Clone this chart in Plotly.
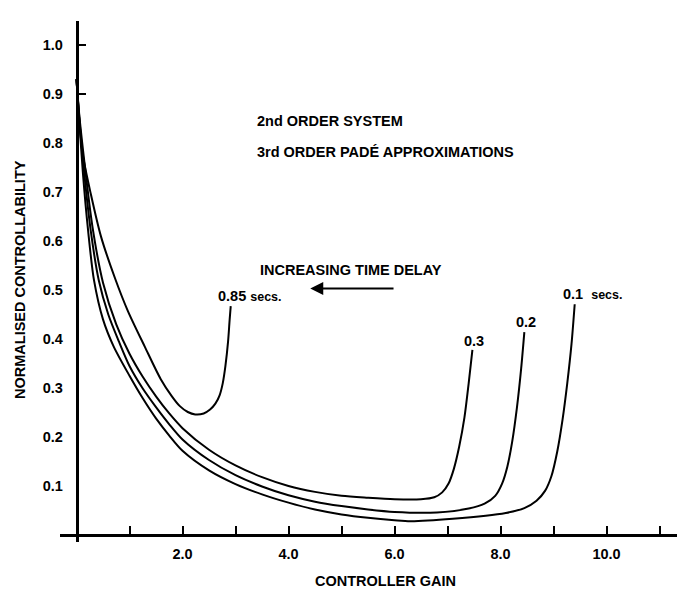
import plotly.graph_objects as go

# ---- data ----
gain_085 = [0, 0.05, 0.12, 0.27, 0.46, 0.73, 0.97, 1.29, 1.59, 1.80, 1.95, 2.10, 2.24, 2.40, 2.52, 2.62, 2.70, 2.76, 2.81, 2.86, 2.89, 2.91]
ctrl_085 = [0.93, 0.85, 0.775, 0.696, 0.61, 0.523, 0.457, 0.384, 0.318, 0.283, 0.263, 0.251, 0.246, 0.248, 0.256, 0.268, 0.285, 0.31, 0.345, 0.395, 0.44, 0.467]

gain_03 = [0, 0.05, 0.15, 0.3, 0.5, 0.75, 1.0, 1.25, 1.5, 1.75, 2.0, 2.5, 3.0, 3.5, 4.0, 4.5, 5.0, 5.5, 6.0, 6.5, 6.75, 6.9, 7.02, 7.12, 7.22, 7.32, 7.40, 7.47]
ctrl_03 = [0.93, 0.86, 0.76, 0.63, 0.515, 0.43, 0.37, 0.323, 0.283, 0.248, 0.218, 0.174, 0.142, 0.118, 0.100, 0.088, 0.080, 0.076, 0.073, 0.073, 0.077, 0.087, 0.105, 0.135, 0.18, 0.24, 0.31, 0.378]

gain_02 = [0, 0.05, 0.14, 0.27, 0.42, 0.6, 0.8, 1.0, 1.25, 1.5, 1.75, 2.0, 2.5, 3.0, 3.5, 4.0, 4.5, 5.0, 5.5, 6.0, 6.8, 7.4, 7.7, 7.9, 8.03, 8.13, 8.22, 8.31, 8.39, 8.45]
ctrl_02 = [0.93, 0.855, 0.745, 0.62, 0.52, 0.45, 0.395, 0.345, 0.299, 0.261, 0.226, 0.195, 0.153, 0.122, 0.099, 0.081, 0.068, 0.059, 0.052, 0.047, 0.046, 0.054, 0.064, 0.08, 0.105, 0.14, 0.19, 0.26, 0.34, 0.414]

gain_01 = [0, 0.05, 0.12, 0.22, 0.33, 0.5, 0.7, 1.0, 1.25, 1.5, 1.75, 2.0, 2.5, 3.0, 3.5, 4.0, 4.5, 5.0, 5.5, 6.0, 6.3, 7.1, 8.1, 8.45, 8.68, 8.84, 8.96, 9.07, 9.17, 9.26, 9.34, 9.40]
ctrl_01 = [0.93, 0.85, 0.74, 0.62, 0.52, 0.44, 0.385, 0.325, 0.279, 0.238, 0.203, 0.172, 0.132, 0.104, 0.083, 0.066, 0.052, 0.042, 0.035, 0.030, 0.028, 0.033, 0.045, 0.055, 0.07, 0.09, 0.12, 0.17, 0.235, 0.31, 0.39, 0.471]

series = [
    ("0.85 secs", gain_085, ctrl_085),
    ("0.3 secs", gain_03, ctrl_03),
    ("0.2 secs", gain_02, ctrl_02),
    ("0.1 secs", gain_01, ctrl_01),
]

x_tick_vals = [1, 2, 3, 4, 5, 6, 7, 8, 9, 10, 11]
x_tick_text = ["", "2.0", "", "4.0", "", "6.0", "", "8.0", "", "10.0", ""]
y_tick_vals = [0.1, 0.2, 0.3, 0.4, 0.5, 0.6, 0.7, 0.8, 0.9, 1.0]
y_tick_text = ["0.1", "0.2", "0.3", "0.4", "0.5", "0.6", "0.7", "0.8", "0.9", "1.0"]
y_marked_ticks = [0.9, 1.0]

# ---- figure ----
FONT = "Liberation Sans, Arial, sans-serif"
FS = 14.5

fig = go.Figure()
for name, xs, ys in series:
    fig.add_trace(go.Scatter(
        x=xs, y=ys, mode="lines", name=name,
        line=dict(color="black", width=2, shape="spline", smoothing=0.8),
        showlegend=False, hoverinfo="skip",
    ))

W, H = 685, 592
ml, mr, mt, mb = 52, 0, 13, 58
pw, ph = W - ml - mr, H - mt - mb
x0_px, y0_px = 68.5, 527          # pixel positions of the origin
x_unit, y_unit = 53.0, 490.0      # pixels per data unit
x_range = [-(x0_px - ml) / x_unit, (W - mr - x0_px) / x_unit]
y_range = [-(H - mb - y0_px) / y_unit, (y0_px - mt) / y_unit]
x_pos = (x0_px - ml) / pw
y_pos = (H - mb - y0_px) / ph

fig.update_layout(
    width=W, height=H,
    margin=dict(l=ml, r=mr, t=mt, b=mb),
    paper_bgcolor="white", plot_bgcolor="white",
    font=dict(family=FONT, size=FS, color="black"),
    xaxis=dict(
        range=x_range, anchor="free", position=y_pos,
        showgrid=False, zeroline=False,
        showline=True, linecolor="black", linewidth=2.5,
        tickmode="array", tickvals=x_tick_vals,
        ticktext=["<b>%s</b>" % t for t in x_tick_text],
        ticks="inside", ticklen=8, tickwidth=2, tickcolor="black",
        ticklabelstandoff=5,
        tickfont=dict(family=FONT, size=FS, color="black"),
    ),
    yaxis=dict(
        range=y_range, anchor="free", position=x_pos,
        showgrid=False, zeroline=False,
        showline=True, linecolor="black", linewidth=2.5,
        tickmode="array", tickvals=y_tick_vals,
        ticktext=["<b>%s</b>" % t for t in y_tick_text],
        ticks="", ticklabelstandoff=10,
        tickfont=dict(family=FONT, size=FS, color="black"),
    ),
    yaxis2=dict(
        range=y_range, anchor="free", position=x_pos, overlaying="y",
        showgrid=False, zeroline=False, showline=False,
        tickmode="array", tickvals=y_marked_ticks, showticklabels=False,
        ticks="inside", ticklen=8, tickwidth=2, tickcolor="black",
    ),
)

# invisible trace to activate yaxis2
fig.add_trace(go.Scatter(x=[None], y=[None], yaxis="y2", showlegend=False, hoverinfo="skip"))

def px_to_paper_x(px):
    return (px - ml) / pw

def px_to_paper_y(py):
    return (H - mb - py) / ph

SMALL = "<span style='font-size:12.5px'>secs.</span>"
# text labels placed in data coordinates: text, x, y, xanchor
annots = [
    ("2nd ORDER SYSTEM", 3.37, 0.845, "left"),
    ("3rd ORDER PADÉ APPROXIMATIONS", 3.37, 0.782, "left"),
    ("INCREASING TIME DELAY", 3.42, 0.541, "left"),
    ("0.85 " + SMALL, 2.63, 0.487, "left"),
    ("0.3", 7.50, 0.396, "center"),
    ("0.2", 8.48, 0.435, "center"),
    ("0.1  " + SMALL, 9.14, 0.491, "left"),
]
for text, ax_, ay_, anch in annots:
    fig.add_annotation(
        text="<b>%s</b>" % text, xref="x", yref="y",
        x=ax_, y=ay_,
        xanchor=anch, yanchor="middle", showarrow=False,
        font=dict(family=FONT, size=FS, color="black"),
    )

# arrow (increasing time delay -> left)
fig.add_annotation(
    xref="x", yref="y", axref="x", ayref="y",
    x=4.41, y=0.503, ax=6.01, ay=0.503, text="", showarrow=True,
    arrowhead=2, arrowsize=1.3, arrowwidth=2, arrowcolor="black",
)

# axis titles
fig.add_annotation(
    text="<b>NORMALISED CONTROLLABILITY</b>", xref="paper", yref="paper",
    x=px_to_paper_x(12), y=px_to_paper_y(272), textangle=-90,
    xanchor="center", yanchor="middle", showarrow=False,
    font=dict(family=FONT, size=FS, color="black"),
)
fig.add_annotation(
    text="<b>CONTROLLER GAIN</b>", xref="paper", yref="paper",
    x=px_to_paper_x(378), y=px_to_paper_y(573),
    xanchor="center", yanchor="middle", showarrow=False,
    font=dict(family=FONT, size=FS, color="black"),
)

fig.write_html("out.html")
